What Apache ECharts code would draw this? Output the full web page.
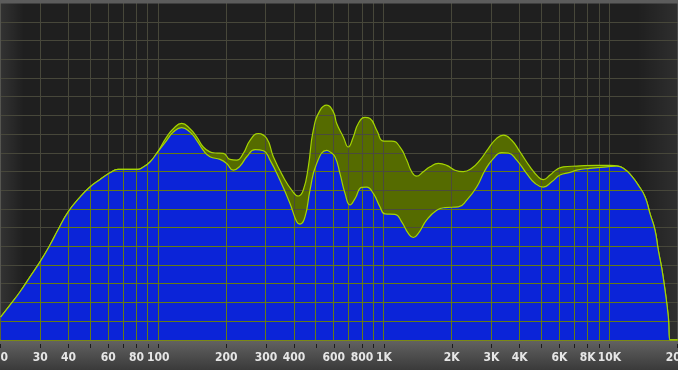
<!DOCTYPE html>
<html>
<head>
<meta charset="utf-8">
<style>
  html, body { margin: 0; padding: 0; background: #4a4a4a; }
  #chart { width: 678px; height: 370px; }
</style>
<script src="https://cdn.jsdelivr.net/npm/echarts@6/dist/echarts.min.js"></script>
</head>
<body>
<div id="chart"></div>
<script>
// ---------- data (frequency in Hz, level in dB) ----------
const upperFreqs = [20, 22, 24.4, 27, 29.9, 33.1, 35.9, 39.8, 45, 49.8, 55.2, 61.1, 66.3, 81.3, 85.5, 91.9, 98.4,
  109, 116.6, 127, 138.2, 148, 158.3, 169.5, 178.4, 194.2, 207.8, 222.6, 238.2, 255.1, 277.6, 302.4, 323.6,
  358.3, 390.2, 417.4, 439.4, 462.4, 486.5, 521.1, 558, 596.9, 617.8, 660.9, 695.3, 731.8, 770.2, 824.8, 868,
  929.5, 994.2, 1083, 1179, 1262, 1328, 1398, 1495, 1602, 1743, 1899, 2066, 2249, 2450, 2667, 2903, 3162,
  3383, 3686, 4012, 4444, 4835, 5089, 5449, 5834, 6240, 7156, 8774, 10052, 10940, 11716, 12544, 13418,
  14370, 15122, 15914, 16460, 17042, 17620, 18228, 18546, 20000];
const upperLevels = [-83.9, -80.7, -77.1, -73.1, -69.1, -64.6, -60.6, -55.8, -51.8, -49.1, -47.1, -45.3, -44.4, -44.4, -43.8, -42.4, -40.1,
  -35.7, -33.5, -32.1, -33.5, -35.7, -38.4, -39.7, -40.0, -40.1, -41.7, -41.9, -40.1, -36.6, -34.8, -36.1, -41.0,
  -46.4, -49.9, -51.5, -49.9, -43.7, -33.9, -28.6, -27.2, -29.0, -32.1, -35.7, -38.4, -35.7, -32.1, -30.5, -30.8,
  -33.9, -36.8, -36.8, -38.4, -41.9, -45.0, -46.2, -45.0, -43.7, -42.8, -43.3, -44.6, -45.0, -44.1, -41.9, -38.8, -36.1,
  -35.2, -36.6, -39.7, -43.7, -46.4, -47.1, -45.9, -44.4, -43.7, -43.5, -43.3, -43.3, -43.5, -44.4, -46.2, -48.6,
  -51.7, -56.2, -60.6, -66.0, -70.8, -76.6, -83.8, -90, -90];

const lowerFreqs = [20, 22, 24.4, 27, 29.9, 33.1, 35.9, 39.8, 45, 49.8, 55.2, 61.1, 66.3, 81.3, 85.5, 91.9, 98.4,
  109, 116.6, 127, 138.2, 148, 158.3, 169.5, 187.7, 201, 215, 230.2, 246.6, 268.5, 292.2, 312.9, 346.4, 383.6,
  410.9, 424.8, 447, 470.4, 503.7, 558, 577, 607.2, 638.9, 672.5, 707.7, 744.8, 797.2, 839.1, 897.5, 961, 1011,
  1120, 1199, 1283, 1350, 1421, 1548, 1715, 1866, 2138, 2330, 2578, 2808, 3055, 3329, 3561, 3880, 4296, 4676,
  5089, 5543, 6035, 6684, 7156, 8196, 9720, 10764, 11716, 12544, 13418, 14370, 15122, 15914, 16460, 17042,
  17620, 18228, 18546, 20000];
const lowerLevels = [-83.9, -80.7, -77.1, -73.1, -69.1, -64.6, -60.6, -55.8, -51.8, -49.1, -47.1, -45.3, -44.4, -44.4, -43.8, -42.4, -40.1,
  -36.6, -34.4, -33.2, -34.4, -36.6, -39.3, -41.0, -41.7, -42.8, -44.6, -43.5, -41.0, -39.1, -39.4, -41.9, -47.3, -53.5,
  -58.4, -59.0, -57.1, -49.9, -42.8, -39.3, -39.7, -41.0, -45.5, -50.8, -53.9, -52.2, -49.2, -49.1, -50.8, -54.4, -56.3,
  -56.4, -58.4, -61.5, -62.6, -61.5, -57.9, -55.3, -54.6, -54.4, -52.6, -49.1, -44.6, -41.5, -39.9, -40.0, -41.9, -45.5, -48.1,
  -49.1, -47.7, -45.9, -45.2, -44.6, -44.1, -43.7, -43.5, -44.4, -46.2, -48.6, -51.7, -56.2, -60.6, -66.0, -70.8,
  -76.6, -83.8, -90, -90];

// axis ticks / labels / grid
const tickFreqs = [20, 30, 40, 50, 60, 70, 80, 90, 100, 200, 300, 400, 500, 600, 700, 800, 900,
  1000, 2000, 3000, 4000, 5000, 6000, 7000, 8000, 9000, 10000, 20000];
const labelFreqs = [20, 30, 40, 60, 80, 100, 200, 300, 400, 600, 800, 1000, 2000, 3000, 4000, 6000, 8000, 10000, 20000];
const gridFreqs = [20, 30, 40, 50, 60, 70, 80, 90, 100, 200, 300, 400, 500, 600, 700, 800, 900,
  1000, 2000, 3000, 4000, 5000, 6000, 7000, 8000, 9000, 10000];
const gridLevels = [-85, -80, -75, -70, -65, -60, -55, -50, -45, -40, -35, -30, -25, -20, -15, -10, -5];

const pairs = (xs, ys) => xs.map((x, i) => [x, ys[i]]);
const fmtFreq = v => { const r = Math.round(v); return r >= 1000 ? Math.round(r / 1000) + 'K' : String(r); };

const chart = echarts.init(document.getElementById('chart'), null, { renderer: 'canvas' });

const option = {
  animation: false,
  backgroundColor: {
    type: 'linear', x: 0, y: 0, x2: 0, y2: 1,
    colorStops: [
      { offset: 0, color: '#5c5c5c' },
      { offset: 0.92, color: '#626262' },
      { offset: 1, color: '#3a3a3a' }
    ]
  },
  grid: {
    left: 0.6, right: 0.6, top: 3.4, bottom: 30,
    containLabel: false, outerBoundsMode: 'none',
    show: true, borderWidth: 0, backgroundColor: '#1f1f1f'
  },
  xAxis: [{
    type: 'log', logBase: 10, min: 20, max: 20000,
    position: 'bottom', offset: 0,
    axisLine: { show: true, onZero: false, lineStyle: { color: '#7c8a14', width: 2 } },
    axisTick: { show: false },
    splitLine: { show: false },
    minorTick: { show: false },
    axisLabel: {
      show: true, customValues: labelFreqs, formatter: fmtFreq,
      margin: 12, color: '#e6e6e6', fontSize: 12, fontWeight: 'bold',
      fontFamily: '"Liberation Sans Narrow", "DejaVu Sans Condensed", "DejaVu Sans", sans-serif'
    }
  }, {
    type: 'log', logBase: 10, min: 20, max: 20000,
    position: 'bottom', offset: 4,
    axisLine: { show: false, onZero: false },
    axisTick: { show: true, customValues: tickFreqs, length: 4, lineStyle: { color: '#1c1c1c', width: 1 } },
    axisLabel: { show: false },
    splitLine: { show: false }
  }],
  yAxis: {
    type: 'value', min: -90, max: 0, interval: 5, show: false,
    splitLine: { show: false }
  },
  series: [{
    id: 'upper', type: 'line', xAxisIndex: 0,
    data: pairs(upperFreqs, upperLevels),
    symbol: 'none', smooth: 0.5,
    lineStyle: { color: '#a4d400', width: 1.2 },
    areaStyle: { origin: 'start', color: '#556b00', opacity: 1 },
    z: 2
  }, {
    id: 'lower', type: 'line', xAxisIndex: 0,
    data: pairs(lowerFreqs, lowerLevels),
    symbol: 'none', smooth: 0.5,
    lineStyle: { color: '#a4d400', width: 1.2 },
    areaStyle: { origin: 'start', color: '#0b24d8', opacity: 1 },
    z: 3
  }]
};
chart.setOption(option);

// ---- textures: grid lines placed through the chart's own axis scales ----
const W = chart.getWidth(), H = chart.getHeight();
const gx = gridFreqs.map(f => chart.convertToPixel({ xAxisIndex: 0 }, f));
const gy = gridLevels.map(v => chart.convertToPixel({ yAxisIndex: 0 }, v));

function texture(fill, lineColor, vignette) {
  const c = document.createElement('canvas');
  c.width = W; c.height = H;
  const g = c.getContext('2d');
  g.fillStyle = fill; g.fillRect(0, 0, W, H);
  if (vignette) {
    const lg = g.createLinearGradient(0, 0, W, 0);
    lg.addColorStop(0, 'rgba(255,255,255,0.09)');
    lg.addColorStop(0.035, 'rgba(255,255,255,0.0)');
    lg.addColorStop(0.94, 'rgba(255,255,255,0.0)');
    lg.addColorStop(1, 'rgba(255,255,255,0.07)');
    g.fillStyle = lg; g.fillRect(0, 0, W, H);
  }
  g.fillStyle = lineColor;
  gx.forEach(x => g.fillRect(Math.floor(x), 0, 1, H));
  gy.forEach(y => g.fillRect(0, Math.floor(y), W, 1));
  return c;
}

const bgTex = texture('#1f1f1f', '#47473a', true);
const bandTex = texture('#556b00', '#4b4b3c', false);
const blueTex = texture('#0b24d8', '#667a14', false);

chart.setOption({
  grid: { backgroundColor: { image: bgTex, repeat: 'no-repeat' } },
  series: [
    { id: 'upper', areaStyle: { color: { image: bandTex, repeat: 'no-repeat' } } },
    { id: 'lower', areaStyle: { color: { image: blueTex, repeat: 'no-repeat' } } }
  ]
});
</script>
</body>
</html>
